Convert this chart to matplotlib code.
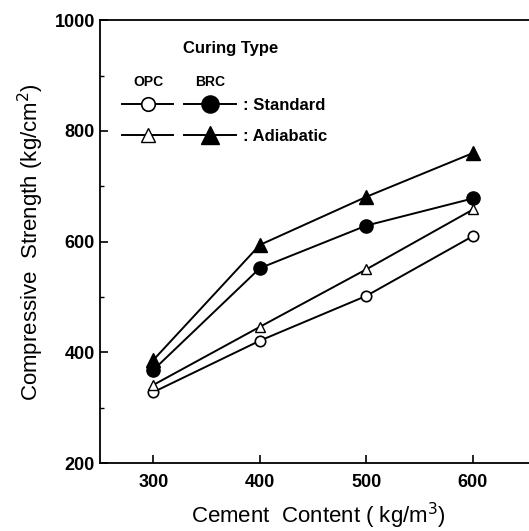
import matplotlib
matplotlib.use('Agg')
import matplotlib.pyplot as plt
from matplotlib.ticker import MultipleLocator

plt.rcParams['font.family'] = ['Liberation Sans', 'DejaVu Sans']

cement = [300, 400, 500, 600]
opc_standard = [328, 421, 502, 610]
opc_adiabatic = [341, 446, 550, 658]
brc_standard = [368, 552, 629, 678]
brc_adiabatic = [386, 594, 681, 760]

fig = plt.figure(figsize=(5.29, 5.31), dpi=100)
ax = fig.add_axes([0.189, 0.128, 0.826, 0.834])

lw = 1.4
h1, = ax.plot(cement, opc_standard, color='black', lw=lw, marker='o',
              ms=7.5, mfc='white', mec='black', mew=1.2)
h2, = ax.plot(cement, opc_adiabatic, color='black', lw=lw, marker='^',
              ms=7.5, mfc='white', mec='black', mew=1.0)
h3, = ax.plot(cement, brc_standard, color='black', lw=lw, marker='o',
              ms=9.5, mfc='black', mec='black')
h4, = ax.plot(cement, brc_adiabatic, color='black', lw=lw, marker='^',
              ms=9.5, mfc='black', mec='black')

ax.set_xlim(250, 660)
ax.set_ylim(200, 1000)
ax.set_xticks(cement)
ax.yaxis.set_major_locator(MultipleLocator(200))
ax.yaxis.set_minor_locator(MultipleLocator(100))
ax.tick_params(axis='both', which='both', direction='in', labelsize=13)
ax.tick_params(axis='both', which='major', length=6, width=1.2)
ax.tick_params(axis='x', which='major', pad=8)
ax.tick_params(axis='y', which='minor', length=3, width=1.0)
ax.spines['right'].set_visible(False)
for s in ['left', 'bottom', 'top']:
    ax.spines[s].set_linewidth(1.3)
for lab in ax.get_xticklabels() + ax.get_yticklabels():
    lab.set_fontweight('bold')

ax.set_xlabel('Cement  Content ( kg/m$^3$)', fontsize=16, labelpad=7)
ax.set_ylabel('Compressive  Strength (kg/cm$^2$)', fontsize=16, labelpad=6)

leg = ax.legend([h1, h2, h3, h4], ['', '', ': Standard', ': Adiabatic'],
                ncol=2, loc='upper left', bbox_to_anchor=(0.05, 0.824),
                borderpad=0, borderaxespad=0, markerscale=1.3,
                frameon=False, handlelength=3.1, columnspacing=0.2,
                handletextpad=0.45, labelspacing=0.95, fontsize=12)
for t in leg.get_texts():
    t.set_fontweight('bold')

ax.text(0.30, 0.937, 'Curing Type', transform=ax.transAxes, fontsize=12,
        fontweight='bold', ha='center', va='center')
ax.text(0.11, 0.86, 'OPC', transform=ax.transAxes, fontsize=10,
        fontweight='bold', ha='center', va='center')
ax.text(0.252, 0.86, 'BRC', transform=ax.transAxes, fontsize=10,
        fontweight='bold', ha='center', va='center')

fig.savefig('out.png', dpi=100)
